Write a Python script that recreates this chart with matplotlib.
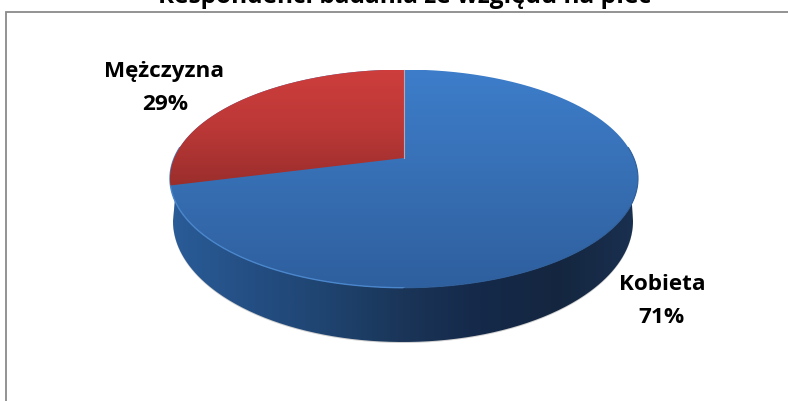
import numpy as np
import matplotlib
matplotlib.use("Agg")
import matplotlib.pyplot as plt
from matplotlib.colors import LinearSegmentedColormap as LSC
from matplotlib.patches import PathPatch
from matplotlib.path import Path

categories = ["Kobieta", "Mężczyzna"]
values = [71, 29]
title = "Respondenci badania ze względu na płeć"
FONT = "Open Sans"

W, H = 788, 402
fig = plt.figure(figsize=(W / 100, H / 100), dpi=100, facecolor="white")
ax = fig.add_axes([0, 0, 1, 1])
ax.set_xlim(0, W)
ax.set_ylim(H, 0)
ax.axis("off")

# perspective projection of a disc
CX, APEX_Y, RX, A, P = 404, 159, 229.8, 105.2, 0.189


def project(theta):
    u, v = np.sin(theta), np.cos(theta)
    d = 1 + P * v
    return CX + RX * u / d, APEX_Y - A * v / d


def gradient(path, stops, horizontal=False, extent=(0, W, H, 0), z=2):
    cmap = LSC.from_list("g", stops)
    g = np.linspace(0, 1, 512)
    g = g[None, :] if horizontal else g[:, None]
    im = ax.imshow(g, cmap=cmap, extent=extent, aspect="auto", zorder=z, vmin=0, vmax=1)
    im.set_clip_path(PathPatch(path, transform=ax.transData))
    return im


fracs = np.array(values, dtype=float) / sum(values)
men_start = -2 * np.pi * fracs[1]  # slice runs up to 12 o'clock

full = np.linspace(0, 2 * np.pi, 721)
tx, ty = project(full)
top_path = Path(np.column_stack([tx, ty]))

# side wall: front arc of the top face plus the lower half of the base ellipse
front = np.linspace(np.pi / 2 - 0.1, 3 * np.pi / 2 + 0.1, 400)
ux, uy = project(front)
base = np.linspace(0, np.pi, 300)
bx = 403 + 230 * np.cos(base)
by = 222 + 121 * np.sin(base)
side = Path(np.column_stack([np.r_[ux, bx[::-1]], np.r_[uy, by[::-1]]]))
ax.fill(np.r_[ux, bx[::-1]], np.r_[uy, by[::-1] + 1.0], color="#d0d0d0", lw=0, zorder=1)
gradient(side, ["#2a5c98", "#244f84", "#1f4470", "#1a3558", "#15294a", "#14263f", "#1a3050"],
         horizontal=True, extent=(170, 636, 345, 180), z=2)

# top face
gradient(top_path, ["#3d7dca", "#376fb4", "#2e5f9e"], extent=(0, W, 289, 71), z=3)
ax.plot(ux[front > np.pi], uy[front > np.pi], color="#4a86cc", lw=1.0, zorder=4)
ax.plot(ux[front <= np.pi], uy[front <= np.pi], color="#2f5f9c", lw=0.8, zorder=4)

# male slice
arc = np.linspace(men_start, 0, 200)
mx, my = project(arc)
men_path = Path(np.column_stack([np.r_[CX, mx, CX], np.r_[APEX_Y, my, APEX_Y]]))
gradient(men_path, ["#cd3e3c", "#bb3837", "#9a2e2c"], extent=(0, W, 187, 71), z=5)
ax.plot([CX, CX], [71, APEX_Y], color="#b9a6b4", lw=0.8, zorder=6)

# frame
ax.plot([6.5, 6.5, W], [H, 12.5, 12.5], color="#8a8a8a", lw=1.3, zorder=0, solid_joinstyle="miter")

kw = dict(family=FONT, weight="bold", color="black", ha="center", va="center", zorder=7)
ax.text(405, -3, title, fontsize=17.6, **kw)
ax.text(164.5, 71, categories[1], fontsize=16.2, **kw)
ax.text(165, 105, f"{values[1]}%", fontsize=16.2, **kw)
ax.text(662, 284.5, categories[0], fontsize=16.2, **kw)
ax.text(661.5, 318, f"{values[0]}%", fontsize=16.2, **kw)
ax.set_xlim(0, W)
ax.set_ylim(H, 0)

fig.savefig("out.png", dpi=100, facecolor="white")
